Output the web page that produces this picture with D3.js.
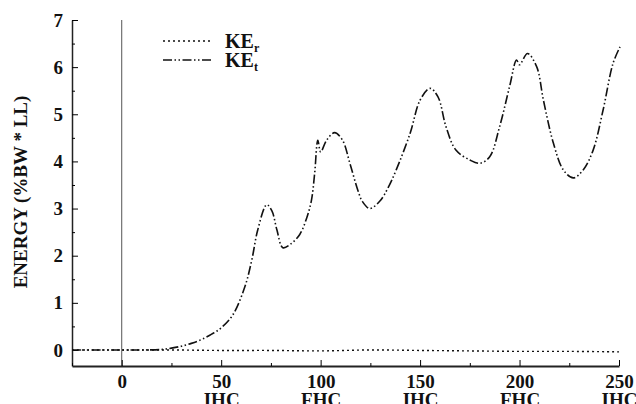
<!DOCTYPE html>
<html>
<head>
<meta charset="utf-8">
<script src="https://cdn.jsdelivr.net/npm/d3@7"></script>
<style>
  body { margin: 0; background: #fff; }
  svg text { font-family: "Liberation Serif", "DejaVu Serif", serif; font-weight: bold; fill: #111; }
</style>
</head>
<body>
<div id="my_chart"></div>
<script>
// x positions (time) and values
var keT_x = [-25, -10, 0, 10, 20, 25, 30, 35, 40, 45, 50, 55.8, 61.9, 65.4, 68.4, 72.9, 75.5, 78, 81, 85, 89.5, 93, 95.4, 97, 98.6, 100, 103, 107, 111, 114.7, 118.7, 121, 124.7, 129.8, 134, 138, 145, 150, 155, 159, 163, 168, 175, 180, 185, 190, 195, 198.5, 200, 204, 208.6, 212, 217, 222, 227, 232, 237, 242, 247, 250.5];
var keT_y = [0, 0, 0, 0, 0.01, 0.04, 0.08, 0.14, 0.22, 0.33, 0.47, 0.74, 1.34, 1.91, 2.55, 3.08, 2.95, 2.55, 2.17, 2.25, 2.45, 2.8, 3.18, 3.75, 4.45, 4.2, 4.45, 4.61, 4.45, 3.96, 3.39, 3.15, 3.0, 3.16, 3.45, 3.82, 4.6, 5.3, 5.55, 5.37, 4.74, 4.24, 4.03, 3.96, 4.1, 4.74, 5.59, 6.15, 6.05, 6.29, 6.01, 5.3, 4.39, 3.82, 3.65, 3.82, 4.24, 5.09, 6.08, 6.43];
var keR_x = [-25, 0, 25, 50, 75, 100, 125, 150, 175, 200, 225, 250];
var keR_y = [0, 0, 0, -0.01, -0.01, -0.02, 0.0, -0.01, -0.02, -0.03, -0.03, -0.04];

var yTicks = [0, 1, 2, 3, 4, 5, 6, 7];
var xTicks = [0, 50, 100, 150, 200, 250];
var xCodes = {50: "IHC", 100: "FHC", 150: "IHC", 200: "FHC", 250: "IHC"};

var W = 636, H = 404;
var svg = d3.select("#my_chart").append("svg")
  .attr("width", W).attr("height", H);

var x = d3.scaleLinear().domain([-25, 250]).range([72, 619]);
var y = d3.scaleLinear().domain([-0.34, 7]).range([366, 20]);

// vertical line at 0
svg.append("line")
  .attr("x1", x(0)).attr("x2", x(0))
  .attr("y1", y(7)).attr("y2", y(-0.34))
  .attr("stroke", "#555").attr("stroke-width", 1);

// y axis
var yAx = svg.append("g")
  .attr("transform", "translate(" + x(-25) + ",0)")
  .call(d3.axisLeft(y).tickValues(yTicks).tickSizeInner(-6).tickSizeOuter(0));
yAx.selectAll("text").style("font-size", "19px").attr("text-anchor", "end").attr("x", -9);
yAx.select(".domain").attr("stroke", "#222").attr("stroke-width", 1.5);
svg.append("g")
  .attr("transform", "translate(" + x(-25) + ",0)")
  .call(d3.axisLeft(y).tickValues([0.5, 1.5, 2.5, 3.5, 4.5, 5.5, 6.5]).tickSize(-3).tickFormat(""))
  .select(".domain").remove();

// x axis
var xAx = svg.append("g")
  .attr("transform", "translate(0," + y(-0.34) + ")")
  .call(d3.axisBottom(x).tickValues(xTicks).tickSizeInner(-6).tickSizeOuter(0));
xAx.selectAll("text").style("font-size", "19px").attr("y", 22).attr("dy", 0);
xAx.select(".domain").attr("stroke", "#222").attr("stroke-width", 1.8);
xAx.selectAll(".tick").filter(function(d) { return xCodes[d]; })
  .append("text")
  .attr("y", 40).attr("fill", "#111").attr("text-anchor", "middle")
  .style("font-size", "19px")
  .text(function(d) { return xCodes[d]; });
svg.append("g")
  .attr("transform", "translate(0," + y(-0.34) + ")")
  .call(d3.axisBottom(x).tickValues([-25, 25, 75, 125, 175, 225]).tickSize(-3).tickFormat(""))
  .select(".domain").remove();

// y label
svg.append("text")
  .attr("transform", "translate(27,192) rotate(-90)")
  .attr("text-anchor", "middle")
  .style("font-size", "19px")
  .text("ENERGY (%BW * LL)");

var line = d3.line()
  .x(function(d) { return x(d[0]); })
  .y(function(d) { return y(d[1]); })
  .curve(d3.curveCatmullRom.alpha(0.5));

var dotDash = "2,3";
var dashDot = "9,2.5,1.5,2.5,1.5,2.5";

svg.append("path")
  .datum(d3.zip(keR_x, keR_y))
  .attr("d", line)
  .attr("fill", "none").attr("stroke", "#111").attr("stroke-width", 1.4)
  .attr("stroke-dasharray", dotDash);

svg.append("path")
  .datum(d3.zip(keT_x, keT_y))
  .attr("d", line)
  .attr("fill", "none").attr("stroke", "#111").attr("stroke-width", 1.6)
  .attr("stroke-dasharray", dashDot);

// legend
var legend = [{name: "KE", sub: "r", dash: dotDash, w: 1.4}, {name: "KE", sub: "t", dash: dashDot, w: 1.6}];
var lg = svg.selectAll(".leg").data(legend).enter().append("g")
  .attr("transform", function(d, i) { return "translate(163," + (41 + i * 19) + ")"; });
lg.append("line")
  .attr("x1", 0).attr("x2", 49)
  .attr("stroke", "#111")
  .attr("stroke-width", function(d) { return d.w; })
  .attr("stroke-dasharray", function(d) { return d.dash; });
var lt = lg.append("text").attr("x", 62).attr("y", 7).style("font-size", "20px");
lt.append("tspan").text(function(d) { return d.name; });
lt.append("tspan").attr("dy", 4).style("font-size", "12px").text(function(d) { return d.sub; });
</script>
</body>
</html>
